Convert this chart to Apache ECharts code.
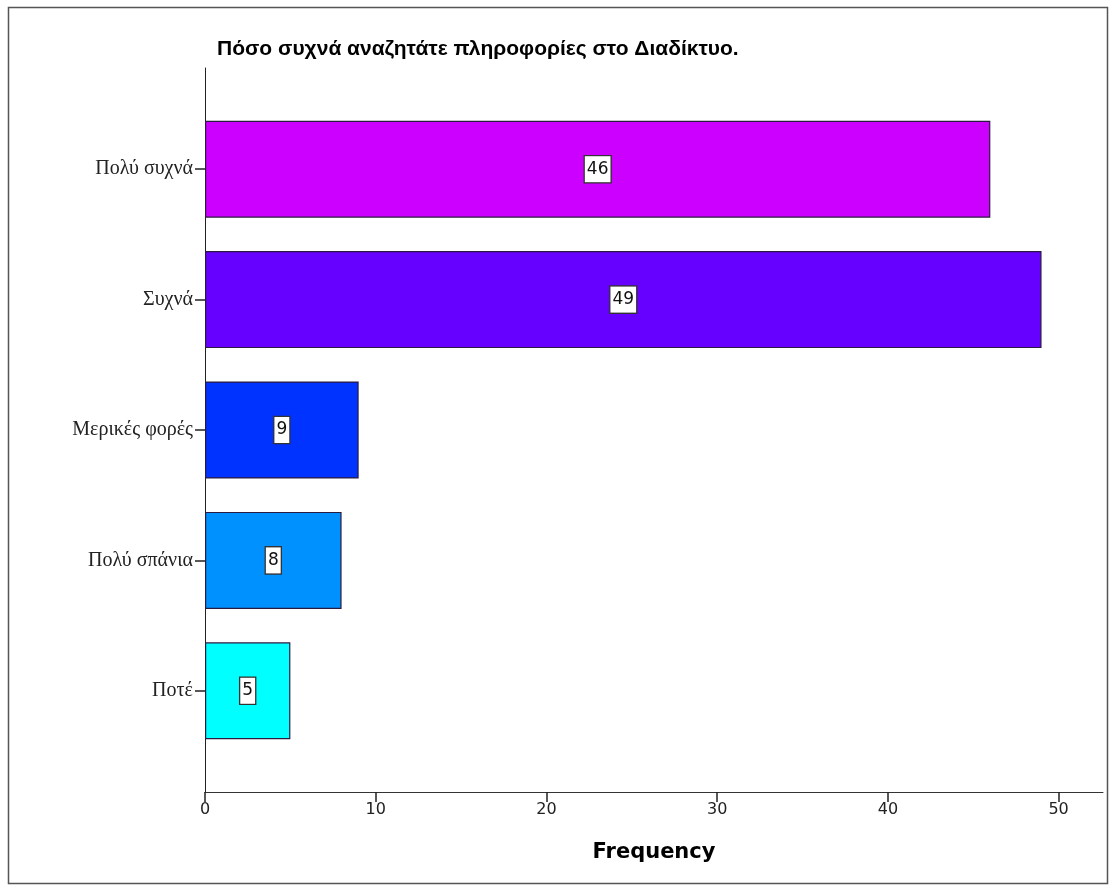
<!DOCTYPE html>
<html>
<head>
<meta charset="utf-8">
<script src="https://cdn.jsdelivr.net/npm/echarts@6/dist/echarts.min.js"></script>
<style>
  html, body { margin: 0; padding: 0; background: #ffffff; }
  #chart { width: 1109px; height: 890px; }
</style>
</head>
<body>
<div id="chart"></div>
<script>
// Answer categories, top to bottom
const categories = ['Πολύ συχνά', 'Συχνά', 'Μερικές φορές', 'Πολύ σπάνια', 'Ποτέ'];
// Number of respondents per answer
const frequencies = [46, 49, 9, 8, 5];
// Fill colour of each bar
const barColors = ['#cc00ff', '#6600ff', '#0033ff', '#0091ff', '#00ffff'];

const titleText = 'Πόσο συχνά αναζητάτε πληροφορίες στο Διαδίκτυο.';
const xAxisName = 'Frequency';

const X_MAX = 52.6;

const chart = echarts.init(document.getElementById('chart'), null, { renderer: 'canvas' });

chart.setOption({
  backgroundColor: '#ffffff',
  animation: false,
  title: {
    text: titleText,
    left: 212,
    top: 34,
    textStyle: {
      fontFamily: 'Liberation Sans',
      fontSize: 21,
      fontWeight: 'bold',
      color: '#000000'
    }
  },
  graphic: [{
    type: 'rect',
    shape: { x: 8.5, y: 7.5, width: 1099, height: 876 },
    style: { fill: 'none', stroke: '#555555', lineWidth: 1.5 },
    silent: true
  }],
  grid: [
    // frame grid: carries the value axis and the long vertical axis line
    { left: 205, right: 6, top: 68, bottom: 98 },
    // bar grid: category bands
    { left: 205, right: 6, top: 104, bottom: 134 }
  ],
  xAxis: [
    {
      gridIndex: 0,
      type: 'value',
      min: 0,
      max: X_MAX,
      interval: 10,
      name: xAxisName,
      nameLocation: 'middle',
      nameGap: 50,
      nameTextStyle: {
        fontFamily: 'DejaVu Sans',
        fontSize: 21,
        fontWeight: 'bold',
        color: '#000000'
      },
      axisLine: { show: true, lineStyle: { color: '#333333', width: 1 } },
      axisTick: { show: true, length: 10, lineStyle: { color: '#222222', width: 1.5 } },
      axisLabel: {
        margin: 10,
        fontFamily: 'DejaVu Sans',
        fontSize: 16,
        color: '#222222',
        showMaxLabel: false
      },
      splitLine: { show: false }
    },
    {
      gridIndex: 1,
      type: 'value',
      min: 0,
      max: X_MAX,
      show: false
    }
  ],
  yAxis: [
    {
      gridIndex: 0,
      type: 'value',
      min: 0,
      max: 1,
      axisLine: { show: true, lineStyle: { color: '#222222', width: 1 } },
      axisTick: { show: false },
      axisLabel: { show: false },
      splitLine: { show: false }
    },
    {
      gridIndex: 1,
      type: 'category',
      data: categories,
      inverse: true,
      axisLine: { show: false },
      axisTick: { show: true, alignWithLabel: true, length: 10, lineStyle: { color: '#222222', width: 1.5 } },
      axisLabel: {
        margin: 12,
        fontFamily: 'Liberation Serif',
        fontSize: 20,
        color: '#222222'
      },
      splitLine: { show: false }
    }
  ],
  series: [{
    type: 'bar',
    xAxisIndex: 1,
    yAxisIndex: 1,
    barWidth: 97,
    data: frequencies.map((v, i) => ({
      value: v,
      itemStyle: { color: barColors[i] }
    })),
    itemStyle: { borderColor: '#2a1a40', borderWidth: 1.2 },
    label: {
      show: true,
      position: 'inside',
      formatter: '{c}',
      fontFamily: 'DejaVu Sans',
      fontSize: 17,
      color: '#111111',
      backgroundColor: '#ffffff',
      borderColor: '#333333',
      borderWidth: 1.3,
      padding: [5, 2, 4, 2]
    }
  }]
});
</script>
</body>
</html>
